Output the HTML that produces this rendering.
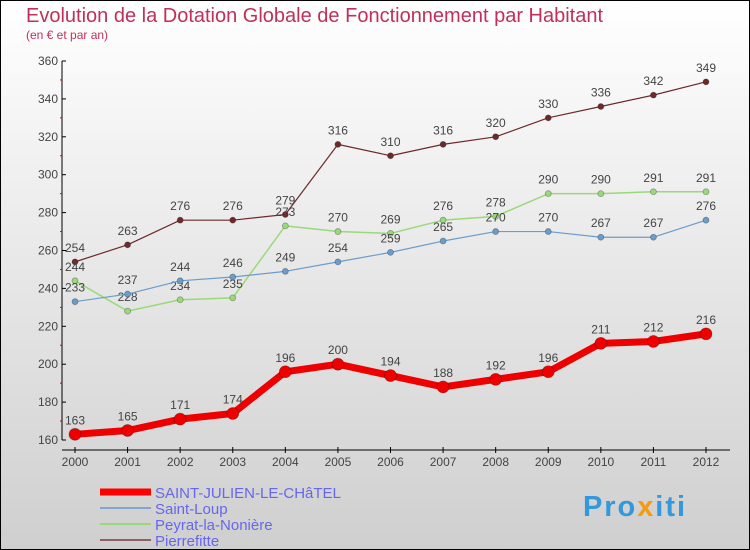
<!DOCTYPE html>
<html><head><meta charset="utf-8"><style>
body{margin:0}
#c{width:750px;height:550px;position:relative;box-sizing:border-box;border:1px solid #000;background:linear-gradient(#ffffff,#cfcfcf);font-family:"Liberation Sans",sans-serif;overflow:hidden}
</style></head><body>
<div id="c">
<svg id="s" width="750" height="550" style="position:absolute;left:-1px;top:-1px">
<text x="26" y="22" font-size="20" fill="#c0305a">Evolution de la Dotation Globale de Fonctionnement par Habitant</text>
<text x="26" y="39" font-size="12" fill="#c0305a">(en € et par an)</text>
<g id="g"></g>
<g>
<line x1="100" y1="492" x2="151" y2="492" stroke="#f00" stroke-width="7"/>
<text x="155" y="498" font-size="15" fill="#6666ee">SAINT-JULIEN-LE-CHâTEL</text>
<line x1="100" y1="508" x2="151" y2="508" stroke="#7fa8cc" stroke-width="2"/>
<text x="155" y="514" font-size="15" fill="#6666ee">Saint-Loup</text>
<line x1="100" y1="524" x2="151" y2="524" stroke="#99d97a" stroke-width="2"/>
<text x="155" y="530" font-size="15" fill="#6666ee">Peyrat-la-Nonière</text>
<line x1="100" y1="540" x2="151" y2="540" stroke="#8b6060" stroke-width="2"/>
<text x="155" y="546" font-size="15" fill="#6666ee">Pierrefitte</text>
</g>
<text x="583" y="516" font-size="29" font-weight="bold" fill="#3399dd" textLength="102">Pro<tspan fill="#f39c12">x</tspan>iti</text>
</svg>
</div>
<script>
const years=[2000,2001,2002,2003,2004,2005,2006,2007,2008,2009,2010,2011,2012];
const yTicks=[160,180,200,220,240,260,280,300,320,340,360];
const sjlc=[163,165,171,174,196,200,194,188,192,196,211,212,216];
const saintLoup=[233,237,244,246,249,254,259,265,270,270,267,267,276];
const peyrat=[244,228,234,235,273,270,269,276,278,290,290,291,291];
const pierrefitte=[254,263,276,276,279,316,310,316,320,330,336,342,349];
const NS='http://www.w3.org/2000/svg';
const g=document.getElementById('g');
const X=i=>75+i*(706-75)/12;
const Y=v=>440-(v-160)*(440-61)/200;
function el(t,a){const e=document.createElementNS(NS,t);for(const k in a)e.setAttribute(k,a[k]);g.appendChild(e);return e;}
let ya=el('line',{x1:62,y1:61,x2:62,y2:440,stroke:'#000'});


yTicks.forEach(v=>{
 el('line',{x1:62,y1:Y(v),x2:66,y2:Y(v),stroke:'#000'});
 if(v<360)el('line',{x1:60,y1:Y(v+10),x2:62,y2:Y(v+10),stroke:'#d00'});
 const t=el('text',{x:58,y:Y(v)+4,'font-size':12,fill:'#444','text-anchor':'end'});t.textContent=v;
 
 
});
let xa=el('line',{x1:62,y1:450,x2:730,y2:450,stroke:'#000'});


years.forEach((y,i)=>{
 el('line',{x1:X(i),y1:447,x2:X(i),y2:453,stroke:'#000'});
 const t=el('text',{x:X(i),y:466,'font-size':12,fill:'#444','text-anchor':'middle'});t.textContent=y;
 
 
});
function series(d,col,w,r,name){
 const p=el('polyline',{points:d.map((v,i)=>X(i)+','+Y(v)).join(' '),fill:'none',stroke:col,'stroke-width':w,'stroke-linejoin':'round'});
 
 
 d.forEach((v,i)=>{
  const c=el('circle',{cx:X(i),cy:Y(v),r:r,fill:col,stroke:'rgba(0,0,0,0.3)','stroke-width':0.8});
  
  
  const t=el('text',{x:X(i),y:Y(v)-10,'font-size':12,fill:'#444','text-anchor':'middle'});t.textContent=d[i];
 });
}
series(pierrefitte,'#6e2a2a',1.2,3,'pierrefitte');
series(peyrat,'#99d97a',1.5,3,'peyrat');
series(saintLoup,'#6a9ccc',1.2,3,'saint-loup');
series(sjlc,'#ee0000',7,6,'saint-julien');
</script>
</body></html>
